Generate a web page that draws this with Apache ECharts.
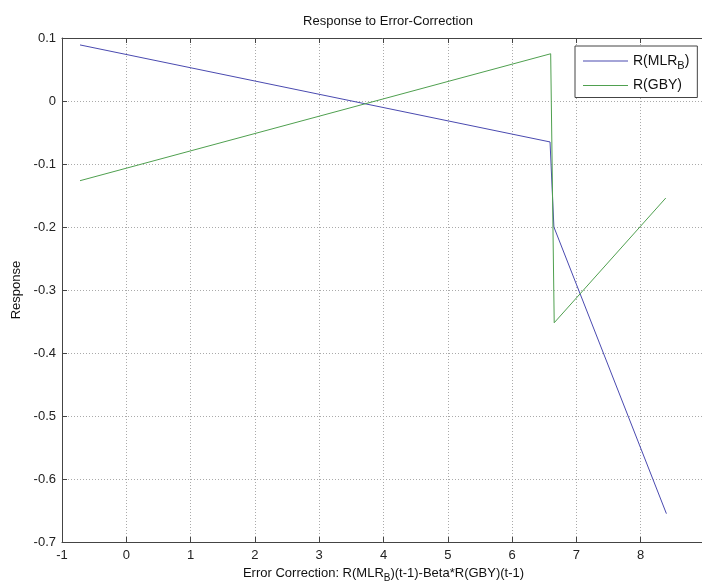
<!DOCTYPE html>
<html>
<head>
<meta charset="utf-8">
<script src="https://cdn.jsdelivr.net/npm/echarts@6/dist/echarts.min.js"></script>
<style>html,body{margin:0;padding:0;background:#fff;}#c{width:702px;height:581px;}</style>
</head>
<body>
<div id="c"></div>
<script>
// Data
const mlrX = [-0.72, 6.59, 6.65, 8.40];
const mlrY = [0.089, -0.065, -0.200, -0.655];
const gbyX = [-0.72, 6.60, 6.655, 8.39];
const gbyY = [-0.1265, 0.075, -0.352, -0.154];
const xTicks = [-1, 0, 1, 2, 3, 4, 5, 6, 7, 8, 9];
const yTicks = [-0.7, -0.6, -0.5, -0.4, -0.3, -0.2, -0.1, 0, 0.1];

const pairs = (xs, ys) => xs.map((x, i) => [x, ys[i]]);
const font = 'Liberation Sans, Arial, sans-serif';
const axisCol = '#444';

const chart = echarts.init(document.getElementById('c'), null, {renderer: 'canvas'});
chart.setOption({
  animation: false,
  backgroundColor: '#fff',
  title: {
    text: 'Response to Error-Correction',
    left: 383, top: 10, textAlign: 'center',
    textStyle: {fontFamily: font, fontSize: 13, fontWeight: 'normal', color: '#111'}
  },
  grid: {left: 62, right: -3, top: 38, bottom: 39, containLabel: false, outerBoundsMode: 'none'},
  legend: {
    orient: 'vertical', left: 575, top: 46,
    backgroundColor: '#fff', borderColor: '#444', borderWidth: 1,
    padding: [8, 8, 5, 8], itemGap: 7,
    icon: 'rect', itemWidth: 45, itemHeight: 1,
    textStyle: {
      fontFamily: font, fontSize: 14, color: '#111',
      rich: {
        a: {fontFamily: font, fontSize: 14, color: '#111'},
        s: {fontFamily: font, fontSize: 11, color: '#111', padding: [10, 0, 0, 0]}
      }
    },
    formatter: n => n === 'R(MLR_B)' ? '{a|R(MLR}{s|B}{a|)}' : '{a|' + n + '}',
    data: ['R(MLR_B)', 'R(GBY)']
  },
  xAxis: [{
    type: 'value', min: xTicks[0], max: xTicks[xTicks.length - 1], interval: 1,
    position: 'bottom',
    axisLine: {show: true, onZero: false, lineStyle: {color: axisCol, width: 1}},
    axisTick: {show: true, inside: true, length: 5, lineStyle: {color: axisCol}},
    axisLabel: {fontFamily: font, fontSize: 13, color: '#222', margin: 7, showMaxLabel: true, showMinLabel: true, hideOverlap: false},
    splitLine: {show: true, lineStyle: {type: [1, 2], color: '#aaa', width: 1}},
    name: '{a|Error Correction: R(MLR}{s|B}{a|)(t-1)-Beta*R(GBY)(t-1)}',
    nameLocation: 'middle', nameGap: 22,
    nameTextStyle: {
      fontFamily: font, fontSize: 13, color: '#111',
      rich: {
        a: {fontFamily: font, fontSize: 13, color: '#111'},
        s: {fontFamily: font, fontSize: 10, color: '#111', padding: [9, 0, 0, 0]}
      }
    }
  }, {
    type: 'value', min: xTicks[0], max: xTicks[xTicks.length - 1], interval: 1,
    position: 'top',
    axisLine: {show: true, onZero: false, lineStyle: {color: axisCol, width: 1}},
    axisTick: {show: true, inside: true, length: 5, lineStyle: {color: axisCol}},
    axisLabel: {show: false},
    splitLine: {show: false}
  }],
  yAxis: [{
    type: 'value', min: yTicks[0], max: yTicks[yTicks.length - 1], interval: 0.1,
    axisLine: {show: true, onZero: false, lineStyle: {color: axisCol, width: 1}},
    axisTick: {show: true, inside: true, length: 5, lineStyle: {color: axisCol}},
    axisLabel: {
      fontFamily: font, fontSize: 13, color: '#222', margin: 6,
      formatter: v => String(+v.toFixed(1))
    },
    splitLine: {show: true, lineStyle: {type: [1, 2], color: '#aaa', width: 1}},
    name: 'Response', nameLocation: 'middle', nameGap: 37, nameRotate: 90,
    nameTextStyle: {fontFamily: font, fontSize: 13, color: '#111'}
  }],
  series: [{
    name: 'R(MLR_B)', type: 'line', data: pairs(mlrX, mlrY),
    symbol: 'none', lineStyle: {color: '#4a4ab0', width: 1}, itemStyle: {color: '#4a4ab0'}
  }, {
    name: 'R(GBY)', type: 'line', data: pairs(gbyX, gbyY),
    symbol: 'none', lineStyle: {color: '#4fa04f', width: 1}, itemStyle: {color: '#4fa04f'}
  }]
});
</script>
</body>
</html>
